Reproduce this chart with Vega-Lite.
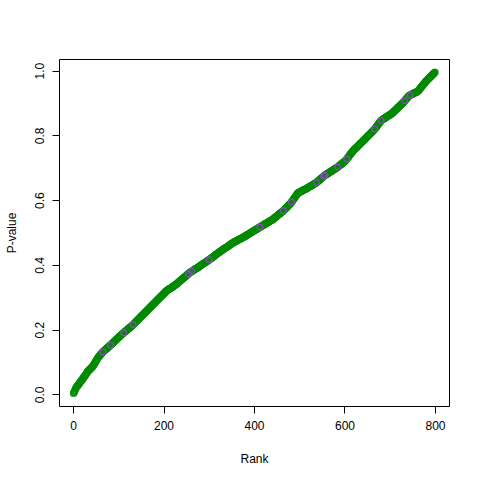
{
"$schema": "https://vega.github.io/schema/vega-lite/v6.json",
"width": 390, "height": 347,
"autosize": "none",
"padding": {"left": 59, "top": 59, "right": 31, "bottom": 74},
"background": "white",
"config": {"view": {"stroke": "#000", "strokeWidth": 1},
 "axis": {"domain": false, "grid": false, "tickSize": 7, "tickColor": "#000", "labelColor": "#000", "titleColor": "#000", "labelFont": "Liberation Sans", "titleFont": "Liberation Sans", "labelFontSize": 12, "titleFontSize": 12, "titleFontWeight": "normal"}},
"data": {"values": [
{"r":1,"p":0.003},{"r":2,"p":0.006},{"r":3,"p":0.008},{"r":4,"p":0.011},{"r":5,"p":0.014},{"r":6,"p":0.018},{"r":7,"p":0.021},{"r":8,"p":0.023},{"r":9,"p":0.025},{"r":10,"p":0.027},
{"r":11,"p":0.028},{"r":12,"p":0.030},{"r":13,"p":0.032},{"r":14,"p":0.034},{"r":15,"p":0.036},{"r":16,"p":0.038},{"r":17,"p":0.040},{"r":18,"p":0.042},{"r":19,"p":0.043},{"r":20,"p":0.045},
{"r":21,"p":0.047},{"r":22,"p":0.049},{"r":23,"p":0.051},{"r":24,"p":0.053},{"r":25,"p":0.055},{"r":26,"p":0.057},{"r":27,"p":0.059},{"r":28,"p":0.061},{"r":29,"p":0.063},{"r":30,"p":0.065},
{"r":31,"p":0.067},{"r":32,"p":0.070},{"r":33,"p":0.072},{"r":34,"p":0.073},{"r":35,"p":0.074},{"r":36,"p":0.076},{"r":37,"p":0.077},{"r":38,"p":0.079},{"r":39,"p":0.080},{"r":40,"p":0.081},
{"r":41,"p":0.083},{"r":42,"p":0.084},{"r":43,"p":0.086},{"r":44,"p":0.087},{"r":45,"p":0.089},{"r":46,"p":0.092},{"r":47,"p":0.094},{"r":48,"p":0.096},{"r":49,"p":0.099},{"r":50,"p":0.101},
{"r":51,"p":0.103},{"r":52,"p":0.106},{"r":53,"p":0.108},{"r":54,"p":0.111},{"r":55,"p":0.113},{"r":56,"p":0.115},{"r":57,"p":0.116},{"r":58,"p":0.118},{"r":59,"p":0.120},{"r":60,"p":0.121},
{"r":61,"p":0.123},{"r":62,"p":0.125},{"r":63,"p":0.126},{"r":64,"p":0.128},{"r":65,"p":0.130},{"r":66,"p":0.131},{"r":67,"p":0.132},{"r":68,"p":0.134},{"r":69,"p":0.135},{"r":70,"p":0.136},
{"r":71,"p":0.137},{"r":72,"p":0.139},{"r":73,"p":0.140},{"r":74,"p":0.141},{"r":75,"p":0.142},{"r":76,"p":0.144},{"r":77,"p":0.145},{"r":78,"p":0.146},{"r":79,"p":0.147},{"r":80,"p":0.149},
{"r":81,"p":0.150},{"r":82,"p":0.151},{"r":83,"p":0.152},{"r":84,"p":0.154},{"r":85,"p":0.155},{"r":86,"p":0.156},{"r":87,"p":0.158},{"r":88,"p":0.159},{"r":89,"p":0.160},{"r":90,"p":0.162},
{"r":91,"p":0.163},{"r":92,"p":0.164},{"r":93,"p":0.166},{"r":94,"p":0.167},{"r":95,"p":0.168},{"r":96,"p":0.170},{"r":97,"p":0.171},{"r":98,"p":0.172},{"r":99,"p":0.174},{"r":100,"p":0.175},
{"r":101,"p":0.176},{"r":102,"p":0.178},{"r":103,"p":0.179},{"r":104,"p":0.180},{"r":105,"p":0.182},{"r":106,"p":0.183},{"r":107,"p":0.184},{"r":108,"p":0.186},{"r":109,"p":0.187},{"r":110,"p":0.188},
{"r":111,"p":0.189},{"r":112,"p":0.190},{"r":113,"p":0.192},{"r":114,"p":0.193},{"r":115,"p":0.194},{"r":116,"p":0.195},{"r":117,"p":0.196},{"r":118,"p":0.197},{"r":119,"p":0.199},{"r":120,"p":0.200},
{"r":121,"p":0.201},{"r":122,"p":0.202},{"r":123,"p":0.203},{"r":124,"p":0.205},{"r":125,"p":0.206},{"r":126,"p":0.207},{"r":127,"p":0.208},{"r":128,"p":0.209},{"r":129,"p":0.210},{"r":130,"p":0.212},
{"r":131,"p":0.213},{"r":132,"p":0.214},{"r":133,"p":0.215},{"r":134,"p":0.217},{"r":135,"p":0.218},{"r":136,"p":0.220},{"r":137,"p":0.221},{"r":138,"p":0.223},{"r":139,"p":0.224},{"r":140,"p":0.225},
{"r":141,"p":0.227},{"r":142,"p":0.228},{"r":143,"p":0.230},{"r":144,"p":0.231},{"r":145,"p":0.233},{"r":146,"p":0.234},{"r":147,"p":0.235},{"r":148,"p":0.237},{"r":149,"p":0.238},{"r":150,"p":0.240},
{"r":151,"p":0.241},{"r":152,"p":0.243},{"r":153,"p":0.244},{"r":154,"p":0.245},{"r":155,"p":0.247},{"r":156,"p":0.248},{"r":157,"p":0.250},{"r":158,"p":0.251},{"r":159,"p":0.252},{"r":160,"p":0.254},
{"r":161,"p":0.255},{"r":162,"p":0.257},{"r":163,"p":0.258},{"r":164,"p":0.259},{"r":165,"p":0.261},{"r":166,"p":0.262},{"r":167,"p":0.264},{"r":168,"p":0.265},{"r":169,"p":0.267},{"r":170,"p":0.268},
{"r":171,"p":0.269},{"r":172,"p":0.271},{"r":173,"p":0.272},{"r":174,"p":0.274},{"r":175,"p":0.275},{"r":176,"p":0.276},{"r":177,"p":0.278},{"r":178,"p":0.279},{"r":179,"p":0.281},{"r":180,"p":0.282},
{"r":181,"p":0.283},{"r":182,"p":0.285},{"r":183,"p":0.286},{"r":184,"p":0.288},{"r":185,"p":0.289},{"r":186,"p":0.291},{"r":187,"p":0.292},{"r":188,"p":0.293},{"r":189,"p":0.295},{"r":190,"p":0.296},
{"r":191,"p":0.298},{"r":192,"p":0.299},{"r":193,"p":0.300},{"r":194,"p":0.302},{"r":195,"p":0.303},{"r":196,"p":0.305},{"r":197,"p":0.306},{"r":198,"p":0.307},{"r":199,"p":0.309},{"r":200,"p":0.310},
{"r":201,"p":0.312},{"r":202,"p":0.313},{"r":203,"p":0.314},{"r":204,"p":0.316},{"r":205,"p":0.317},{"r":206,"p":0.319},{"r":207,"p":0.320},{"r":208,"p":0.321},{"r":209,"p":0.322},{"r":210,"p":0.323},
{"r":211,"p":0.324},{"r":212,"p":0.325},{"r":213,"p":0.326},{"r":214,"p":0.327},{"r":215,"p":0.327},{"r":216,"p":0.328},{"r":217,"p":0.329},{"r":218,"p":0.330},{"r":219,"p":0.331},{"r":220,"p":0.332},
{"r":221,"p":0.333},{"r":222,"p":0.334},{"r":223,"p":0.335},{"r":224,"p":0.336},{"r":225,"p":0.337},{"r":226,"p":0.338},{"r":227,"p":0.339},{"r":228,"p":0.340},{"r":229,"p":0.341},{"r":230,"p":0.342},
{"r":231,"p":0.344},{"r":232,"p":0.345},{"r":233,"p":0.346},{"r":234,"p":0.347},{"r":235,"p":0.348},{"r":236,"p":0.350},{"r":237,"p":0.351},{"r":238,"p":0.352},{"r":239,"p":0.353},{"r":240,"p":0.354},
{"r":241,"p":0.356},{"r":242,"p":0.357},{"r":243,"p":0.358},{"r":244,"p":0.359},{"r":245,"p":0.360},{"r":246,"p":0.362},{"r":247,"p":0.363},{"r":248,"p":0.364},{"r":249,"p":0.365},{"r":250,"p":0.366},
{"r":251,"p":0.368},{"r":252,"p":0.369},{"r":253,"p":0.370},{"r":254,"p":0.371},{"r":255,"p":0.372},{"r":256,"p":0.374},{"r":257,"p":0.375},{"r":258,"p":0.376},{"r":259,"p":0.377},{"r":260,"p":0.378},
{"r":261,"p":0.379},{"r":262,"p":0.380},{"r":263,"p":0.380},{"r":264,"p":0.381},{"r":265,"p":0.382},{"r":266,"p":0.383},{"r":267,"p":0.384},{"r":268,"p":0.385},{"r":269,"p":0.386},{"r":270,"p":0.387},
{"r":271,"p":0.388},{"r":272,"p":0.389},{"r":273,"p":0.389},{"r":274,"p":0.390},{"r":275,"p":0.391},{"r":276,"p":0.392},{"r":277,"p":0.393},{"r":278,"p":0.394},{"r":279,"p":0.395},{"r":280,"p":0.396},
{"r":281,"p":0.397},{"r":282,"p":0.398},{"r":283,"p":0.399},{"r":284,"p":0.400},{"r":285,"p":0.401},{"r":286,"p":0.402},{"r":287,"p":0.403},{"r":288,"p":0.404},{"r":289,"p":0.405},{"r":290,"p":0.406},
{"r":291,"p":0.406},{"r":292,"p":0.407},{"r":293,"p":0.408},{"r":294,"p":0.409},{"r":295,"p":0.410},{"r":296,"p":0.411},{"r":297,"p":0.412},{"r":298,"p":0.413},{"r":299,"p":0.414},{"r":300,"p":0.415},
{"r":301,"p":0.416},{"r":302,"p":0.417},{"r":303,"p":0.418},{"r":304,"p":0.419},{"r":305,"p":0.420},{"r":306,"p":0.421},{"r":307,"p":0.422},{"r":308,"p":0.423},{"r":309,"p":0.424},{"r":310,"p":0.425},
{"r":311,"p":0.426},{"r":312,"p":0.427},{"r":313,"p":0.429},{"r":314,"p":0.430},{"r":315,"p":0.431},{"r":316,"p":0.432},{"r":317,"p":0.433},{"r":318,"p":0.434},{"r":319,"p":0.435},{"r":320,"p":0.436},
{"r":321,"p":0.437},{"r":322,"p":0.438},{"r":323,"p":0.439},{"r":324,"p":0.440},{"r":325,"p":0.441},{"r":326,"p":0.442},{"r":327,"p":0.443},{"r":328,"p":0.444},{"r":329,"p":0.445},{"r":330,"p":0.446},
{"r":331,"p":0.447},{"r":332,"p":0.448},{"r":333,"p":0.449},{"r":334,"p":0.450},{"r":335,"p":0.451},{"r":336,"p":0.452},{"r":337,"p":0.452},{"r":338,"p":0.453},{"r":339,"p":0.454},{"r":340,"p":0.455},
{"r":341,"p":0.456},{"r":342,"p":0.457},{"r":343,"p":0.458},{"r":344,"p":0.459},{"r":345,"p":0.460},{"r":346,"p":0.461},{"r":347,"p":0.462},{"r":348,"p":0.463},{"r":349,"p":0.464},{"r":350,"p":0.465},
{"r":351,"p":0.466},{"r":352,"p":0.467},{"r":353,"p":0.468},{"r":354,"p":0.469},{"r":355,"p":0.469},{"r":356,"p":0.470},{"r":357,"p":0.471},{"r":358,"p":0.472},{"r":359,"p":0.472},{"r":360,"p":0.473},
{"r":361,"p":0.474},{"r":362,"p":0.475},{"r":363,"p":0.475},{"r":364,"p":0.476},{"r":365,"p":0.477},{"r":366,"p":0.478},{"r":367,"p":0.478},{"r":368,"p":0.479},{"r":369,"p":0.480},{"r":370,"p":0.481},
{"r":371,"p":0.481},{"r":372,"p":0.482},{"r":373,"p":0.483},{"r":374,"p":0.483},{"r":375,"p":0.484},{"r":376,"p":0.485},{"r":377,"p":0.486},{"r":378,"p":0.487},{"r":379,"p":0.487},{"r":380,"p":0.488},
{"r":381,"p":0.489},{"r":382,"p":0.490},{"r":383,"p":0.491},{"r":384,"p":0.492},{"r":385,"p":0.493},{"r":386,"p":0.493},{"r":387,"p":0.494},{"r":388,"p":0.495},{"r":389,"p":0.496},{"r":390,"p":0.497},
{"r":391,"p":0.498},{"r":392,"p":0.499},{"r":393,"p":0.499},{"r":394,"p":0.500},{"r":395,"p":0.501},{"r":396,"p":0.502},{"r":397,"p":0.503},{"r":398,"p":0.504},{"r":399,"p":0.505},{"r":400,"p":0.505},
{"r":401,"p":0.506},{"r":402,"p":0.507},{"r":403,"p":0.508},{"r":404,"p":0.509},{"r":405,"p":0.510},{"r":406,"p":0.511},{"r":407,"p":0.511},{"r":408,"p":0.512},{"r":409,"p":0.513},{"r":410,"p":0.514},
{"r":411,"p":0.515},{"r":412,"p":0.516},{"r":413,"p":0.517},{"r":414,"p":0.517},{"r":415,"p":0.518},{"r":416,"p":0.519},{"r":417,"p":0.520},{"r":418,"p":0.521},{"r":419,"p":0.522},{"r":420,"p":0.522},
{"r":421,"p":0.523},{"r":422,"p":0.524},{"r":423,"p":0.525},{"r":424,"p":0.526},{"r":425,"p":0.527},{"r":426,"p":0.527},{"r":427,"p":0.528},{"r":428,"p":0.529},{"r":429,"p":0.530},{"r":430,"p":0.531},
{"r":431,"p":0.532},{"r":432,"p":0.532},{"r":433,"p":0.533},{"r":434,"p":0.534},{"r":435,"p":0.535},{"r":436,"p":0.536},{"r":437,"p":0.537},{"r":438,"p":0.537},{"r":439,"p":0.538},{"r":440,"p":0.539},
{"r":441,"p":0.540},{"r":442,"p":0.541},{"r":443,"p":0.542},{"r":444,"p":0.543},{"r":445,"p":0.545},{"r":446,"p":0.546},{"r":447,"p":0.547},{"r":448,"p":0.548},{"r":449,"p":0.549},{"r":450,"p":0.550},
{"r":451,"p":0.551},{"r":452,"p":0.553},{"r":453,"p":0.554},{"r":454,"p":0.555},{"r":455,"p":0.556},{"r":456,"p":0.557},{"r":457,"p":0.558},{"r":458,"p":0.559},{"r":459,"p":0.560},{"r":460,"p":0.562},
{"r":461,"p":0.563},{"r":462,"p":0.564},{"r":463,"p":0.565},{"r":464,"p":0.566},{"r":465,"p":0.567},{"r":466,"p":0.569},{"r":467,"p":0.570},{"r":468,"p":0.572},{"r":469,"p":0.573},{"r":470,"p":0.574},
{"r":471,"p":0.576},{"r":472,"p":0.577},{"r":473,"p":0.579},{"r":474,"p":0.580},{"r":475,"p":0.582},{"r":476,"p":0.583},{"r":477,"p":0.585},{"r":478,"p":0.586},{"r":479,"p":0.587},{"r":480,"p":0.589},
{"r":481,"p":0.590},{"r":482,"p":0.592},{"r":483,"p":0.594},{"r":484,"p":0.596},{"r":485,"p":0.598},{"r":486,"p":0.600},{"r":487,"p":0.602},{"r":488,"p":0.604},{"r":489,"p":0.606},{"r":490,"p":0.608},
{"r":491,"p":0.610},{"r":492,"p":0.612},{"r":493,"p":0.614},{"r":494,"p":0.616},{"r":495,"p":0.618},{"r":496,"p":0.620},{"r":497,"p":0.622},{"r":498,"p":0.623},{"r":499,"p":0.623},{"r":500,"p":0.624},
{"r":501,"p":0.625},{"r":502,"p":0.626},{"r":503,"p":0.626},{"r":504,"p":0.627},{"r":505,"p":0.628},{"r":506,"p":0.629},{"r":507,"p":0.629},{"r":508,"p":0.630},{"r":509,"p":0.631},{"r":510,"p":0.632},
{"r":511,"p":0.632},{"r":512,"p":0.633},{"r":513,"p":0.634},{"r":514,"p":0.634},{"r":515,"p":0.635},{"r":516,"p":0.636},{"r":517,"p":0.637},{"r":518,"p":0.637},{"r":519,"p":0.638},{"r":520,"p":0.639},
{"r":521,"p":0.640},{"r":522,"p":0.641},{"r":523,"p":0.642},{"r":524,"p":0.642},{"r":525,"p":0.643},{"r":526,"p":0.644},{"r":527,"p":0.645},{"r":528,"p":0.646},{"r":529,"p":0.647},{"r":530,"p":0.647},
{"r":531,"p":0.648},{"r":532,"p":0.649},{"r":533,"p":0.650},{"r":534,"p":0.651},{"r":535,"p":0.652},{"r":536,"p":0.652},{"r":537,"p":0.653},{"r":538,"p":0.654},{"r":539,"p":0.655},{"r":540,"p":0.657},
{"r":541,"p":0.658},{"r":542,"p":0.659},{"r":543,"p":0.660},{"r":544,"p":0.661},{"r":545,"p":0.663},{"r":546,"p":0.664},{"r":547,"p":0.665},{"r":548,"p":0.666},{"r":549,"p":0.668},{"r":550,"p":0.669},
{"r":551,"p":0.670},{"r":552,"p":0.671},{"r":553,"p":0.672},{"r":554,"p":0.674},{"r":555,"p":0.675},{"r":556,"p":0.676},{"r":557,"p":0.677},{"r":558,"p":0.678},{"r":559,"p":0.679},{"r":560,"p":0.680},
{"r":561,"p":0.680},{"r":562,"p":0.681},{"r":563,"p":0.682},{"r":564,"p":0.683},{"r":565,"p":0.684},{"r":566,"p":0.685},{"r":567,"p":0.686},{"r":568,"p":0.687},{"r":569,"p":0.688},{"r":570,"p":0.689},
{"r":571,"p":0.689},{"r":572,"p":0.690},{"r":573,"p":0.691},{"r":574,"p":0.692},{"r":575,"p":0.693},{"r":576,"p":0.694},{"r":577,"p":0.695},{"r":578,"p":0.696},{"r":579,"p":0.697},{"r":580,"p":0.698},
{"r":581,"p":0.698},{"r":582,"p":0.699},{"r":583,"p":0.700},{"r":584,"p":0.701},{"r":585,"p":0.702},{"r":586,"p":0.703},{"r":587,"p":0.704},{"r":588,"p":0.706},{"r":589,"p":0.707},{"r":590,"p":0.708},
{"r":591,"p":0.709},{"r":592,"p":0.710},{"r":593,"p":0.711},{"r":594,"p":0.712},{"r":595,"p":0.714},{"r":596,"p":0.715},{"r":597,"p":0.716},{"r":598,"p":0.717},{"r":599,"p":0.718},{"r":600,"p":0.719},
{"r":601,"p":0.720},{"r":602,"p":0.722},{"r":603,"p":0.723},{"r":604,"p":0.725},{"r":605,"p":0.727},{"r":606,"p":0.729},{"r":607,"p":0.730},{"r":608,"p":0.732},{"r":609,"p":0.734},{"r":610,"p":0.736},
{"r":611,"p":0.738},{"r":612,"p":0.740},{"r":613,"p":0.742},{"r":614,"p":0.744},{"r":615,"p":0.745},{"r":616,"p":0.747},{"r":617,"p":0.749},{"r":618,"p":0.751},{"r":619,"p":0.752},{"r":620,"p":0.754},
{"r":621,"p":0.755},{"r":622,"p":0.757},{"r":623,"p":0.758},{"r":624,"p":0.759},{"r":625,"p":0.761},{"r":626,"p":0.762},{"r":627,"p":0.763},{"r":628,"p":0.765},{"r":629,"p":0.766},{"r":630,"p":0.768},
{"r":631,"p":0.769},{"r":632,"p":0.770},{"r":633,"p":0.772},{"r":634,"p":0.773},{"r":635,"p":0.775},{"r":636,"p":0.776},{"r":637,"p":0.777},{"r":638,"p":0.779},{"r":639,"p":0.780},{"r":640,"p":0.781},
{"r":641,"p":0.783},{"r":642,"p":0.784},{"r":643,"p":0.786},{"r":644,"p":0.787},{"r":645,"p":0.788},{"r":646,"p":0.790},{"r":647,"p":0.791},{"r":648,"p":0.793},{"r":649,"p":0.794},{"r":650,"p":0.796},
{"r":651,"p":0.797},{"r":652,"p":0.798},{"r":653,"p":0.800},{"r":654,"p":0.801},{"r":655,"p":0.803},{"r":656,"p":0.804},{"r":657,"p":0.805},{"r":658,"p":0.807},{"r":659,"p":0.808},{"r":660,"p":0.810},
{"r":661,"p":0.811},{"r":662,"p":0.812},{"r":663,"p":0.814},{"r":664,"p":0.815},{"r":665,"p":0.817},{"r":666,"p":0.818},{"r":667,"p":0.820},{"r":668,"p":0.822},{"r":669,"p":0.824},{"r":670,"p":0.825},
{"r":671,"p":0.827},{"r":672,"p":0.829},{"r":673,"p":0.831},{"r":674,"p":0.833},{"r":675,"p":0.835},{"r":676,"p":0.837},{"r":677,"p":0.839},{"r":678,"p":0.840},{"r":679,"p":0.842},{"r":680,"p":0.844},
{"r":681,"p":0.846},{"r":682,"p":0.847},{"r":683,"p":0.848},{"r":684,"p":0.849},{"r":685,"p":0.850},{"r":686,"p":0.851},{"r":687,"p":0.852},{"r":688,"p":0.852},{"r":689,"p":0.853},{"r":690,"p":0.854},
{"r":691,"p":0.855},{"r":692,"p":0.856},{"r":693,"p":0.857},{"r":694,"p":0.858},{"r":695,"p":0.859},{"r":696,"p":0.860},{"r":697,"p":0.861},{"r":698,"p":0.862},{"r":699,"p":0.863},{"r":700,"p":0.863},
{"r":701,"p":0.864},{"r":702,"p":0.865},{"r":703,"p":0.866},{"r":704,"p":0.867},{"r":705,"p":0.868},{"r":706,"p":0.869},{"r":707,"p":0.870},{"r":708,"p":0.872},{"r":709,"p":0.873},{"r":710,"p":0.875},
{"r":711,"p":0.876},{"r":712,"p":0.877},{"r":713,"p":0.879},{"r":714,"p":0.880},{"r":715,"p":0.881},{"r":716,"p":0.883},{"r":717,"p":0.884},{"r":718,"p":0.886},{"r":719,"p":0.887},{"r":720,"p":0.888},
{"r":721,"p":0.890},{"r":722,"p":0.891},{"r":723,"p":0.892},{"r":724,"p":0.894},{"r":725,"p":0.895},{"r":726,"p":0.897},{"r":727,"p":0.898},{"r":728,"p":0.899},{"r":729,"p":0.901},{"r":730,"p":0.902},
{"r":731,"p":0.903},{"r":732,"p":0.905},{"r":733,"p":0.907},{"r":734,"p":0.908},{"r":735,"p":0.910},{"r":736,"p":0.912},{"r":737,"p":0.913},{"r":738,"p":0.915},{"r":739,"p":0.917},{"r":740,"p":0.918},
{"r":741,"p":0.920},{"r":742,"p":0.921},{"r":743,"p":0.923},{"r":744,"p":0.924},{"r":745,"p":0.924},{"r":746,"p":0.925},{"r":747,"p":0.926},{"r":748,"p":0.926},{"r":749,"p":0.927},{"r":750,"p":0.928},
{"r":751,"p":0.928},{"r":752,"p":0.929},{"r":753,"p":0.930},{"r":754,"p":0.931},{"r":755,"p":0.931},{"r":756,"p":0.932},{"r":757,"p":0.933},{"r":758,"p":0.933},{"r":759,"p":0.934},{"r":760,"p":0.935},
{"r":761,"p":0.935},{"r":762,"p":0.936},{"r":763,"p":0.938},{"r":764,"p":0.939},{"r":765,"p":0.941},{"r":766,"p":0.943},{"r":767,"p":0.945},{"r":768,"p":0.946},{"r":769,"p":0.948},{"r":770,"p":0.950},
{"r":771,"p":0.951},{"r":772,"p":0.953},{"r":773,"p":0.955},{"r":774,"p":0.957},{"r":775,"p":0.958},{"r":776,"p":0.960},{"r":777,"p":0.962},{"r":778,"p":0.963},{"r":779,"p":0.965},{"r":780,"p":0.967},
{"r":781,"p":0.968},{"r":782,"p":0.970},{"r":783,"p":0.971},{"r":784,"p":0.973},{"r":785,"p":0.974},{"r":786,"p":0.975},{"r":787,"p":0.977},{"r":788,"p":0.978},{"r":789,"p":0.980},{"r":790,"p":0.981},
{"r":791,"p":0.982},{"r":792,"p":0.984},{"r":793,"p":0.985},{"r":794,"p":0.987},{"r":795,"p":0.988},{"r":796,"p":0.989},{"r":797,"p":0.991},{"r":798,"p":0.992},{"r":799,"p":0.994},{"r":800,"p":0.995}
]},
"encoding": {
 "x": {"field": "r", "type": "quantitative", "title": "Rank", "scale": {"domain": [-31, 831], "nice": false, "zero": false},
   "axis": {"values": [0, 200, 400, 600, 800], "labelPadding": 7, "titlePadding": 22}},
 "y": {"field": "p", "type": "quantitative", "title": "P-value", "scale": {"domain": [-0.036, 1.036], "nice": false, "zero": false},
   "axis": {"values": [0, 0.2, 0.4, 0.6, 0.8, 1.0], "format": ".1f", "labelAngle": -90, "labelAlign": "center", "labelBaseline": "bottom", "labelPadding": 6, "titlePadding": 15}}
},
"layer": [
 {"mark": {"type": "point", "shape": "circle", "filled": false, "size": 34, "strokeWidth": 1.6, "color": "#008B00", "opacity": 0.8, "clip": true}},
 {"transform": [{"filter": {"field": "r", "oneOf": [66, 83, 112, 133, 255, 262, 301, 413, 465, 483, 538, 554, 557, 585, 605, 667, 681, 733, 745]}}],
  "mark": {"type": "point", "shape": "circle", "filled": false, "size": 34, "strokeWidth": 1.2, "color": "#9A40D8", "opacity": 1, "clip": true}}
]
}
